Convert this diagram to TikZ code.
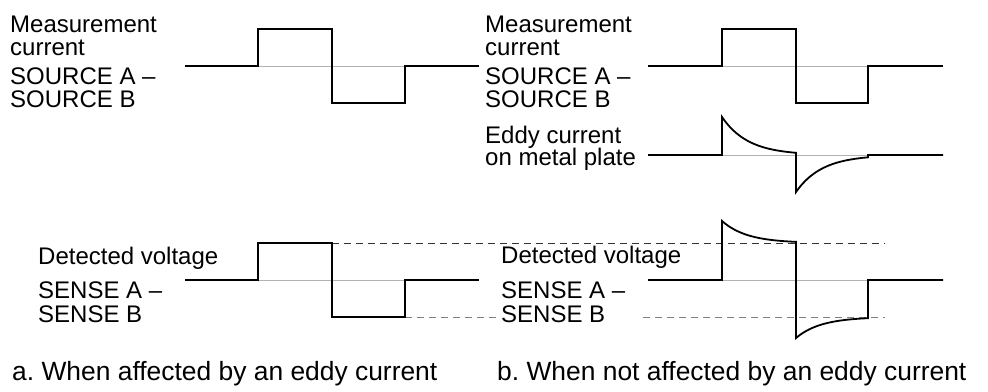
\documentclass[tikz,border=0pt]{standalone}
\usepackage{fontspec}
\setmainfont{Liberation Sans}
\usepackage{xcolor}
\usepackage{tikz}

\begin{document}
\begin{tikzpicture}[x=1pt, y=-1pt,
    wave/.style={line width=1.8pt, line join=miter},
    zero/.style={gray!60, line width=0.9pt},
    guide/.style={dash pattern=on 7pt off 5pt, line width=0.8pt},
    lbl/.style={anchor=base west, inner sep=0pt, font=\fontsize{24}{24}\selectfont},
    captext/.style={anchor=base west, inner sep=0pt, font=\fontsize{26.4}{27}\selectfont}]
    \useasboundingbox (0,0) rectangle (988,391);

    % zero lines
    \foreach \yy in {66, 280} {
        \draw[zero] (258,\yy) -- (405,\yy);
        \draw[zero] (722,\yy) -- (868,\yy);
    }
    \draw[zero] (722,155) -- (868,155);

    % dashed levels
    \draw[guide, black!80] (332,243) -- (885,243);
    \draw[guide, gray] (405,317) -- (499,317);
    \draw[guide, gray] (643,317) -- (885,317);

    % a. square waves
    \draw[wave] (185,66) -- (258,66) -- (258,29) -- (332,29) -- (332,103) -- (405,103) -- (405,66) -- (479,66);
    \draw[wave] (185,280) -- (258,280) -- (258,243) -- (332,243) -- (332,317) -- (405,317) -- (405,280) -- (479,280);

    % b. waves with eddy current
    \draw[wave] (648,66) -- (722,66) -- (722,29) -- (796,29) -- (796,103) -- (868,103) -- (868,66) -- (943,66);
    \draw[wave] (648,155) -- (722,155) -- (722,117)
        -- plot[domain=722:796, samples=40] (\x, {155-38*exp(-(\x-722)/26)})
        -- (796,192)
        -- plot[domain=796:868, samples=40] (\x, {155+37*exp(-(\x-796)/26)})
        -- (868,155) -- (943,155);
    \draw[wave] (648,280) -- (722,280) -- (722,221)
        -- plot[domain=722:796, samples=40] (\x, {243-22*exp(-(\x-722)/25)})
        -- (796,338)
        -- plot[domain=796:868, samples=40] (\x, {317+21*exp(-(\x-796)/25)})
        -- (868,280) -- (943,280);

    % labels a
    \node[lbl] (measA) at (10,32) {Measurement};
    \node[lbl] (curA) at (10,55) {current};
    \node[lbl] (srcA) at (10,84) {SOURCE A --};
    \node[lbl] (srcB) at (10,107) {SOURCE B};
    \node[lbl] (detA) at (38,264) {Detected voltage};
    \node[lbl] (senA) at (38,298) {SENSE A --};
    \node[lbl] (senB) at (38,322) {SENSE B};
    \node[captext] (capA) at (12,380) {a.\ When affected by an eddy current};

    % labels b
    \node[lbl] (measB) at (485,32) {Measurement};
    \node[lbl] (curB) at (485,55) {current};
    \node[lbl] (srcC) at (485,84) {SOURCE A --};
    \node[lbl] (srcD) at (485,107) {SOURCE B};
    \node[lbl] (eddy) at (485,143) {Eddy current};
    \node[lbl] (plate) at (485,165) {on metal plate};
    \node[lbl] (detB) at (501,263) {Detected voltage};
    \node[lbl] (senC) at (501,298) {SENSE A --};
    \node[lbl] (senD) at (501,322) {SENSE B};
    \node[captext] (capB) at (497,380) {b.\ When not affected by an eddy current};
\end{tikzpicture}
\end{document}
